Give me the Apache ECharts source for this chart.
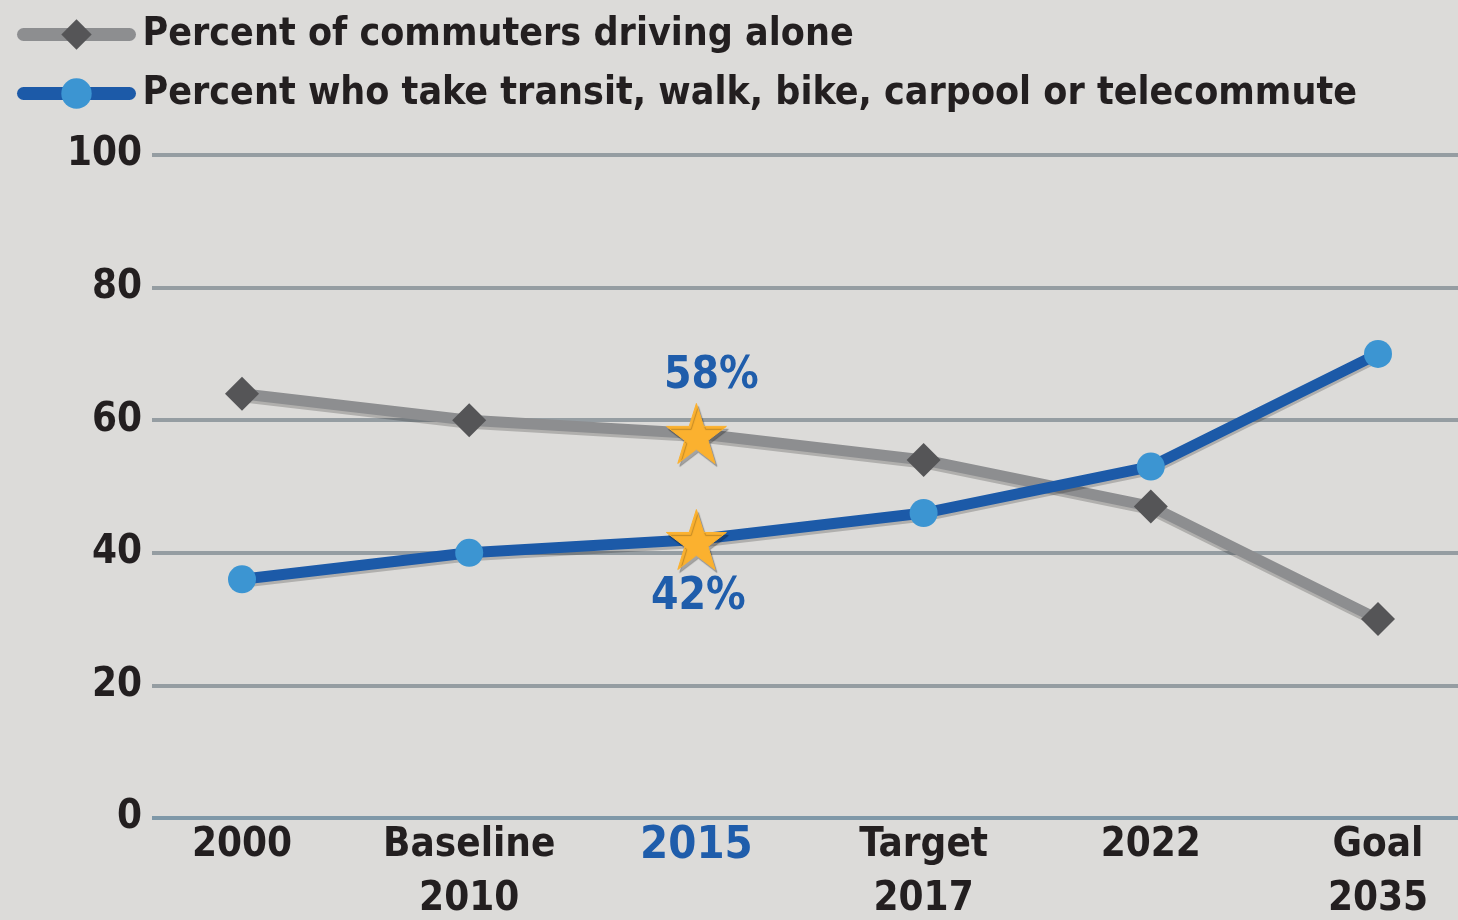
<!DOCTYPE html>
<html>
<head>
<meta charset="utf-8">
<script src="https://cdn.jsdelivr.net/npm/echarts@6/dist/echarts.min.js"></script>
<style>
  html, body { margin: 0; padding: 0; background: #dcdbd9; }
  #grafico { width: 1458px; height: 920px; }
</style>
</head>
<body>
<div id="grafico"></div>
<script>
// Datos
const categorias = ['2000', 'Baseline\n2010', '2015', 'Target\n2017', '2022', 'Goal\n2035'];
const conduciendoSolo = [64, 60, 58, 54, 47, 30];
const alternativas = [36, 40, 42, 46, 53, 70];
const indiceDestacado = 2; // 2015
const nombreSerie1 = 'Percent of commuters driving alone';
const nombreSerie2 = 'Percent who take transit, walk, bike, carpool or telecommute';

const fuente = '"Liberation Sans Narrow", "DejaVu Sans Condensed", "Noto Sans", sans-serif';
const estrella = 'path://M50,0 L61.8,35.1 L98.9,35.1 L68.9,56.7 L80.3,91.9 L50,70.2 L19.7,91.9 L31.1,56.7 L1.1,35.1 L38.2,35.1 Z';
const azulTexto = '#1f5dab';
const gris = '#8d8e90';
const grisOscuro = '#555557';
const azul = '#1c5aa8';
const celeste = '#3c95d2';

// Marcar el punto destacado con una estrella
function conEstrella(valores, posicion) {
    return valores.map((v, i) => {
        if (i !== indiceDestacado) return v;
        return {
            value: v,
            symbol: estrella,
            symbolSize: 60,
            itemStyle: { color: '#fbb12f', borderColor: '#fbb12f', shadowColor: 'rgba(0,0,0,0.25)', shadowOffsetX: 2, shadowOffsetY: 3, shadowBlur: 1 },
            label: {
                show: true,
                position: posicion,
                distance: posicion === 'top' ? 4 : 6,
                offset: posicion === 'top' ? [15, 0] : [2, 0],
                formatter: v + '%',
                color: azulTexto,
                fontFamily: fuente,
                fontWeight: 'bold',
                fontSize: 44
            }
        };
    });
}

function iniciar() {
    const chartDom = document.getElementById('grafico');
    const myChart = echarts.init(chartDom, null, {renderer: 'canvas'});

    const option = {
        backgroundColor: '#dcdbd9',
        animation: false,
        legend: {
            orient: 'vertical',
            left: 12,
            top: 10,
            itemWidth: 106,
            itemHeight: 38,
            itemGap: 20,
            lineStyle: { width: 13, cap: 'round' },
            textStyle: {
                fontFamily: fuente,
                fontWeight: 'bold',
                fontSize: 39,
                color: '#231f20',
                padding: [0, 0, 0, 8]
            },
            data: [nombreSerie1, nombreSerie2]
        },
        grid: [
            { left: 152, right: 0, top: 155, bottom: 102, outerBoundsMode: 'none' },
            { left: 242, right: 80, top: 155, bottom: 102, outerBoundsMode: 'none' }
        ],
        xAxis: [
            { type: 'value', gridIndex: 0, show: false, min: 0, max: 1 },
            {
                type: 'category',
                gridIndex: 1,
                data: categorias,
                boundaryGap: false,
                axisLine: { show: false },
                axisTick: { show: false },
                axisLabel: {
                    margin: 1,
                    interval: 0,
                    fontFamily: fuente,
                    fontWeight: 'bold',
                    fontSize: 40,
                    lineHeight: 54,
                    color: '#231f20',
                    formatter: (v, i) => i === indiceDestacado ? '{d|' + v + '}' : v,
                    rich: {
                        d: { color: azulTexto, fontFamily: fuente, fontWeight: 'bold', fontSize: 45, lineHeight: 54 }
                    }
                }
            }
        ],
        yAxis: [
            {
                type: 'value',
                gridIndex: 0,
                min: 0,
                max: 100,
                interval: 20,
                axisLine: { show: false },
                axisTick: { show: false },
                axisLabel: {
                    margin: 10,
                    fontFamily: fuente,
                    fontWeight: 'bold',
                    fontSize: 40,
                    color: '#231f20'
                },
                splitLine: {
                    lineStyle: {
                        color: ['#7f98a8', '#959da2', '#959da2', '#959da2', '#959da2', '#959da2'],
                        width: 4
                    }
                }
            },
            { type: 'value', gridIndex: 1, min: 0, max: 100, show: false }
        ],
        series: [
            {
                name: nombreSerie1,
                type: 'line',
                xAxisIndex: 1,
                yAxisIndex: 1,
                data: conEstrella(conduciendoSolo, 'top'),
                symbol: 'diamond',
                symbolSize: [34, 34],
                lineStyle: { color: gris, width: 11, shadowColor: 'rgba(0,0,0,0.2)', shadowOffsetY: 3 },
                itemStyle: { color: grisOscuro },
                z: 3
            },
            {
                name: nombreSerie2,
                type: 'line',
                xAxisIndex: 1,
                yAxisIndex: 1,
                data: conEstrella(alternativas, 'bottom'),
                symbol: 'circle',
                symbolSize: 28,
                lineStyle: { color: azul, width: 11, shadowColor: 'rgba(0,0,0,0.2)', shadowOffsetY: 3 },
                itemStyle: { color: celeste },
                z: 4
            }
        ]
    };

    myChart.setOption(option);
}

iniciar();
</script>
</body>
</html>
